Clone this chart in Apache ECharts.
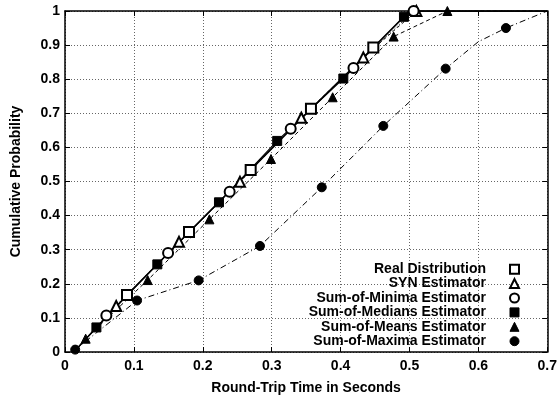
<!DOCTYPE html>
<html>
<head>
<meta charset="utf-8">
<script src="https://cdn.jsdelivr.net/npm/echarts@6/dist/echarts.min.js"></script>
<style>html,body{margin:0;padding:0;background:#fff}#c{width:560px;height:400px}</style>
</head>
<body>
<div id="c"></div>
<script>
// ---- data ----
const seriesNames = ['Real Distribution','SYN Estimator','Sum-of-Minima Estimator','Sum-of-Medians Estimator','Sum-of-Means Estimator','Sum-of-Maxima Estimator'];
const realPts    = [[0.090,0.167],[0.180,0.352],[0.2695,0.534],[0.357,0.713],[0.4475,0.893]];
const synPts     = [[0.0743,0.135],[0.1655,0.323],[0.254,0.499],[0.343,0.687],[0.433,0.864],[0.510,1.0]];
const minimaPts  = [[0.060,0.107],[0.1496,0.290],[0.239,0.470],[0.3276,0.655],[0.4187,0.833],[0.506,1.0]];
const mediansPts = [[0.0456,0.072],[0.134,0.257],[0.2235,0.439],[0.308,0.619],[0.404,0.802],[0.492,0.983]];
const meansPts   = [[0.030,0.039],[0.120,0.211],[0.2096,0.389],[0.299,0.566],[0.3885,0.747],[0.477,0.925],[0.555,1.0]];
const maximaPts  = [[0.0148,0.007],[0.1046,0.151],[0.194,0.210],[0.283,0.311],[0.3727,0.483],[0.462,0.663],[0.5525,0.831],[0.640,0.950]];
// curve start / end points
const curveStart = [0.015,0.005];
const realEnd    = [[0.500,1.0],[0.700,1.0]];
const synEnd     = [[0.700,1.0]];
const minimaEnd  = [[0.700,1.0]];
const mediansEnd = [[0.500,1.0],[0.700,1.0]];
const meansEnd   = [[0.700,1.0]];
const maximaMid  = [[0.600,0.910]];
const maximaEnd  = [[0.700,1.0]];
const xTickLabels = ['0','0.1','0.2','0.3','0.4','0.5','0.6','0.7'];
const yTickLabels = ['0','0.1','0.2','0.3','0.4','0.5','0.6','0.7','0.8','0.9','1'];

const FONT = '"Liberation Sans", Arial, Helvetica, sans-serif';
const lab = {fontFamily: FONT, fontWeight: 'bold', fontSize: 14, color: '#000'};

const lines = [
  {pts: [curveStart, ...realPts, ...realEnd], type: 'solid', w: 1.5},
  {pts: [curveStart, ...synPts, ...synEnd], type: [3,3], w: 1},
  {pts: [curveStart, ...minimaPts, ...minimaEnd], type: [1,2], w: 1},
  {pts: [curveStart, ...mediansPts, ...mediansEnd], type: 'solid', w: 1.2},
  {pts: [curveStart, ...meansPts, ...meansEnd], type: [4,3], w: 1},
  {pts: [...maximaPts.slice(0,7), ...maximaMid, maximaPts[7], ...maximaEnd], type: [6,3,1,3], w: 1}
];
const markers = [
  {pts: realPts, sym: 'emptyRect', size: 10},
  {pts: synPts, sym: 'emptyTriangle', size: 10},
  {pts: minimaPts, sym: 'emptyCircle', size: 10},
  {pts: mediansPts, sym: 'rect', size: 9},
  {pts: meansPts, sym: 'triangle', size: 9},
  {pts: maximaPts, sym: 'circle', size: 9}
];

const series = [];
lines.forEach((l, i) => {
  series.push({
    type: 'line', xAxisIndex: 0, yAxisIndex: 0, data: l.pts, showSymbol: false, symbol: 'none',
    lineStyle: {color: '#000', width: l.w, type: l.type}, silent: true, z: 2, animation: false
  });
});
markers.forEach((m, i) => {
  series.push({
    name: seriesNames[i], type: 'line', xAxisIndex: 0, yAxisIndex: 0, data: m.pts,
    symbol: m.sym, symbolSize: m.size, showSymbol: true,
    lineStyle: {width: 0, opacity: 0},
    itemStyle: {color: '#000', borderColor: '#000', borderWidth: 1},
    z: 5, animation: false
  });
});

const split = {show: true, lineStyle: {color: '#666', type: [1,2], width: 1}};
const axLine = {show: true, onZero: false, lineStyle: {color: '#000', width: 1.5}};
const tick = {show: true, inside: true, length: 5, lineStyle: {color: '#000', width: 1}};

const chart = echarts.init(document.getElementById('c'), null, {renderer: 'canvas'});
chart.setOption({
  backgroundColor: '#fff',
  animation: false,
  grid: {left: 65, right: 9, top: 11, bottom: 46},
  legend: {
    orient: 'vertical', align: 'right', right: 40, top: 262, padding: 0,
    itemWidth: 9, itemHeight: 9, itemGap: 0, selectedMode: false,
    itemStyle: {borderWidth: 1},
    textStyle: Object.assign({}, lab, {lineHeight: 14.4, padding: [0, 19, 0, 0]}),
    data: [
      {name: seriesNames[0], icon: 'emptyRect'},
      {name: seriesNames[1], icon: 'emptyTriangle'},
      {name: seriesNames[2], icon: 'emptyCircle'},
      {name: seriesNames[3], icon: 'rect'},
      {name: seriesNames[4], icon: 'triangle'},
      {name: seriesNames[5], icon: 'circle'}
    ]
  },
  xAxis: [
    {type: 'value', min: 0, max: 0.7, interval: 0.1, position: 'bottom',
     name: 'Round-Trip Time in Seconds', nameLocation: 'middle', nameGap: 29, nameTextStyle: lab,
     axisLine: axLine, axisTick: tick, splitLine: split,
     axisLabel: Object.assign({}, lab, {margin: 7, formatter: (v) => xTickLabels[Math.round(v*10)]})},
    {type: 'value', min: 0, max: 0.7, interval: 0.1, position: 'top',
     axisLine: axLine, axisTick: tick, splitLine: {show: false}, axisLabel: {show: false}}
  ],
  yAxis: [
    {type: 'value', min: 0, max: 1, interval: 0.1, position: 'left',
     name: 'Cumulative Probability', nameLocation: 'middle', nameGap: 42, nameTextStyle: lab,
     axisLine: axLine, axisTick: tick, splitLine: split,
     axisLabel: Object.assign({}, lab, {margin: 5, formatter: (v) => yTickLabels[Math.round(v*10)]})},
    {type: 'value', min: 0, max: 1, interval: 0.1, position: 'right',
     axisLine: axLine, axisTick: tick, splitLine: {show: false}, axisLabel: {show: false}}
  ],
  series: series
});
</script>
</body>
</html>
